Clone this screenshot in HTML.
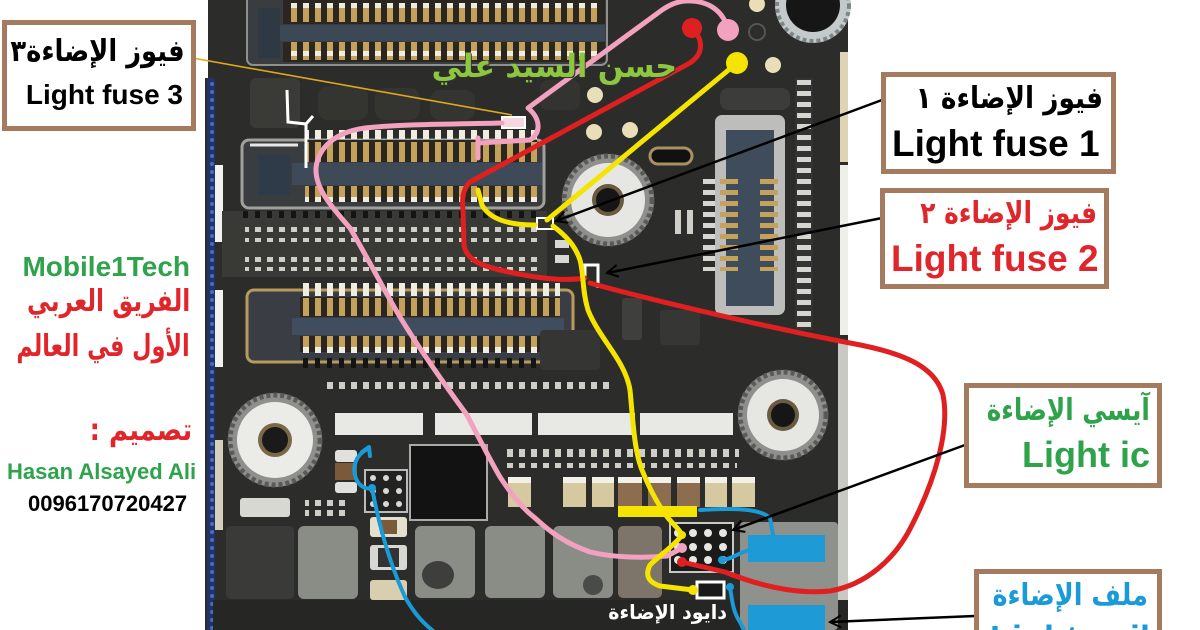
<!DOCTYPE html>
<html><head><meta charset="utf-8">
<style>
html,body{margin:0;padding:0;background:#fff;}
#wrap{position:relative;width:1200px;height:630px;overflow:hidden;background:#fff;}
svg{position:absolute;left:0;top:0;}
.t{position:absolute;white-space:nowrap;font-weight:bold;line-height:1;}
.lat{font-family:"Liberation Sans",Arial,sans-serif;}
.ar{font-family:"DejaVu Sans","Liberation Sans",sans-serif;direction:rtl;transform-origin:100% 50%;}
.box{position:absolute;border:5px solid #a47b5f;background:#fff;box-sizing:border-box;}
</style></head><body><div id="wrap">
<svg width="1200" height="630" viewBox="0 0 1200 630">
<defs>
<pattern id="gs" width="12" height="10" patternUnits="userSpaceOnUse"><rect x="3" width="6" height="10" fill="#c6a15a"/></pattern>
<pattern id="ws" width="12" height="10" patternUnits="userSpaceOnUse"><rect x="3" width="6" height="10" fill="#efece0"/></pattern>
<pattern id="ds" width="12" height="10" patternUnits="userSpaceOnUse"><rect x="3" width="6" height="10" fill="#cfcfc8"/></pattern>
<pattern id="ks" width="12" height="10" patternUnits="userSpaceOnUse"><rect x="3" width="5" height="10" fill="#141414"/></pattern>
<pattern id="hg" width="20" height="11" patternUnits="userSpaceOnUse"><rect y="3" width="20" height="5" fill="#c6a15a"/></pattern>
<pattern id="hw" width="20" height="11" patternUnits="userSpaceOnUse"><rect y="3" width="20" height="5" fill="#d6d6d0"/></pattern>
<pattern id="bl" width="8" height="8" patternUnits="userSpaceOnUse"><rect width="8" height="8" fill="#22336a"/><circle cx="4" cy="4" r="2" fill="#4a6cc0"/></pattern>
<marker id="ah" markerWidth="16" markerHeight="16" refX="12" refY="7" orient="auto" markerUnits="userSpaceOnUse"><path d="M1,1 L12,7 L1,13" fill="none" stroke="#000" stroke-width="2"/></marker>
</defs>

<!-- PCB base -->
<rect x="205" y="0" width="643" height="630" fill="#2c2c2a"/>
<rect x="205" y="0" width="3" height="78" fill="#fff"/>
<rect x="207" y="78" width="8" height="552" fill="url(#bl)"/>
<rect x="215" y="165" width="8" height="77" fill="#f2f2f0"/>
<rect x="215" y="290" width="8" height="77" fill="#f2f2f0"/>
<rect x="215" y="440" width="8" height="90" fill="#d4d0bc"/>
<rect x="840" y="52" width="8" height="110" fill="#ddd4b6"/>
<rect x="840" y="165" width="8" height="170" fill="#efefea"/>
<rect x="838" y="340" width="10" height="290" fill="#c9c9c4"/>

<!-- top connector -->
<rect x="247" y="-6" width="360" height="71" rx="6" fill="#3a3d40" stroke="#8f918f" stroke-width="2"/>
<rect x="283" y="0" width="322" height="24" fill="#2a2622"/>
<rect x="287" y="3" width="316" height="19" fill="url(#gs)"/>
<rect x="287" y="3" width="316" height="5" fill="url(#ws)"/>
<rect x="280" y="25" width="325" height="16" fill="#3c4856"/>
<rect x="283" y="42" width="322" height="20" fill="#2a2622"/>
<rect x="287" y="42" width="316" height="18" fill="url(#gs)"/>
<rect x="287" y="51" width="316" height="5" fill="url(#ws)"/>
<rect x="258" y="8" width="22" height="50" fill="#2f3944"/>

<!-- area between -->
<rect x="250" y="78" width="50" height="50" rx="6" fill="#3a3a37"/>
<rect x="318" y="86" width="50" height="34" rx="10" fill="#343431"/>
<rect x="375" y="88" width="45" height="32" rx="10" fill="#343431"/>
<rect x="430" y="90" width="45" height="30" rx="10" fill="#343431"/>
<rect x="540" y="80" width="40" height="30" rx="8" fill="#333330"/>

<!-- second connector -->
<rect x="242" y="140" width="302" height="68" rx="7" fill="#3a3d40" stroke="#a0a09c" stroke-width="3"/>
<rect x="305" y="130" width="232" height="9" fill="url(#ws)"/>
<rect x="305" y="140" width="232" height="22" fill="#2a2622"/>
<rect x="305" y="142" width="232" height="20" fill="url(#gs)"/>
<rect x="292" y="163" width="250" height="22" fill="#3e4a58"/>
<rect x="305" y="186" width="232" height="16" fill="#2a2622"/>
<rect x="305" y="186" width="232" height="15" fill="url(#gs)"/>
<rect x="305" y="197" width="232" height="5" fill="url(#ws)"/>
<rect x="258" y="155" width="32" height="40" fill="#2f3b48"/>

<!-- pad rows -->
<rect x="222" y="211" width="325" height="66" fill="#393a36"/>
<rect x="240" y="211" width="300" height="7" fill="url(#ks)"/>
<rect x="245" y="227" width="295" height="5" fill="url(#ds)"/>
<rect x="245" y="238" width="295" height="4" fill="url(#ds)"/>
<rect x="245" y="257" width="295" height="5" fill="url(#ds)"/>
<rect x="245" y="267" width="295" height="4" fill="url(#ds)"/>

<!-- fourth connector -->
<rect x="247" y="290" width="326" height="72" rx="7" fill="#3a3e44" stroke="#b89a5a" stroke-width="3"/>
<rect x="300" y="283" width="260" height="13" fill="url(#ws)"/>
<rect x="300" y="297" width="260" height="20" fill="#2a2622"/>
<rect x="300" y="298" width="260" height="18" fill="url(#gs)"/>
<rect x="292" y="318" width="272" height="17" fill="#3f4d5e"/>
<rect x="300" y="336" width="260" height="16" fill="#2a2622"/>
<rect x="300" y="336" width="260" height="14" fill="url(#gs)"/>
<rect x="300" y="347" width="260" height="6" fill="url(#ws)"/>
<rect x="300" y="358" width="260" height="10" fill="url(#ks)"/>
<rect x="325" y="382" width="290" height="7" fill="url(#ds)"/>

<!-- middle small components -->
<rect x="622" y="298" width="20" height="42" rx="3" fill="#3f3f3d"/>
<rect x="660" y="310" width="40" height="35" rx="4" fill="#363634"/>
<rect x="555" y="240" width="14" height="8" fill="#d8d8d2"/>
<rect x="555" y="255" width="14" height="8" fill="#d8d8d2"/>
<rect x="670" y="210" width="24" height="24" fill="url(#ds)"/>
<rect x="540" y="330" width="60" height="40" rx="4" fill="#353533"/>

<!-- beige pads top -->
<circle cx="595" cy="95" r="8" fill="#e8dfb8"/>
<circle cx="594" cy="132" r="8" fill="#e8dfb8"/>
<circle cx="630" cy="130" r="8" fill="#e8dfb8"/>
<circle cx="773" cy="65" r="8" fill="#e8dfb8"/>
<circle cx="757" cy="4" r="8" fill="#e8dfb8"/>
<circle cx="757" cy="32" r="8" fill="none" stroke="#555" stroke-width="2"/>
<rect x="650" y="148" width="42" height="16" rx="8" fill="#111" stroke="#a89060" stroke-width="3"/>

<!-- right vertical connector -->
<rect x="720" y="88" width="70" height="22" rx="8" fill="#3c3c3a"/>
<rect x="715" y="115" width="70" height="200" rx="7" fill="#bdbdbb"/>
<rect x="726" y="130" width="48" height="176" fill="#3f4c5c"/>
<rect x="720" y="175" width="18" height="96" fill="url(#hg)"/>
<rect x="760" y="175" width="18" height="96" fill="url(#hg)"/>
<rect x="703" y="175" width="12" height="96" fill="url(#hw)"/>
<rect x="795" y="78" width="18" height="252" fill="#333331"/>
<rect x="797" y="78" width="14" height="252" fill="url(#hw)"/>

<!-- screws -->
<g>
<circle cx="813" cy="5" r="38" fill="#c4cacb"/>
<circle cx="813" cy="5" r="36" fill="none" stroke="#7d8585" stroke-width="4" stroke-dasharray="4 3"/>
<circle cx="813" cy="5" r="27" fill="#161616"/>
</g>
<g>
<circle cx="608" cy="200" r="46" fill="#8f8f8b"/>
<circle cx="608" cy="200" r="44" fill="none" stroke="#5a5a58" stroke-width="5" stroke-dasharray="4 3"/>
<circle cx="608" cy="200" r="37" fill="#e6e6e2"/>
<circle cx="608" cy="200" r="16" fill="#6a5a40"/>
<circle cx="608" cy="200" r="12" fill="#161616"/>
</g>
<g>
<circle cx="275" cy="440" r="47" fill="#8f8f8b"/>
<circle cx="275" cy="440" r="45" fill="none" stroke="#5a5a58" stroke-width="5" stroke-dasharray="4 3"/>
<circle cx="275" cy="440" r="38" fill="#ebebe7"/>
<circle cx="275" cy="440" r="17" fill="#7a6848"/>
<circle cx="275" cy="440" r="13" fill="#1a1a1a"/>
</g>
<g>
<circle cx="783" cy="415" r="45" fill="#8f8f8b"/>
<circle cx="783" cy="415" r="43" fill="none" stroke="#5a5a58" stroke-width="5" stroke-dasharray="4 3"/>
<circle cx="783" cy="415" r="36" fill="#e6e6e2"/>
<circle cx="783" cy="415" r="16" fill="#6a5a40"/>
<circle cx="783" cy="415" r="12" fill="#161616"/>
</g>

<!-- bottom white strip pads -->
<rect x="335" y="413" width="88" height="22" fill="#e8e8e4"/>
<rect x="435" y="413" width="97" height="22" fill="#e8e8e4"/>
<rect x="538" y="413" width="97" height="22" fill="#e8e8e4"/>
<rect x="640" y="413" width="93" height="22" fill="#e8e8e4"/>
<rect x="507" y="449" width="232" height="8" fill="url(#ds)"/>
<rect x="505" y="463" width="232" height="5" fill="url(#ds)"/>

<!-- small components left -->
<rect x="335" y="450" width="22" height="12" rx="3" fill="#e0e0dc"/>
<rect x="335" y="463" width="22" height="17" fill="#7a5a3a"/>
<rect x="335" y="482" width="22" height="11" rx="3" fill="#e0e0dc"/>
<rect x="240" y="498" width="50" height="19" rx="3" fill="#d8d8d2"/>
<rect x="305" y="500" width="40" height="6" fill="url(#ds)"/>
<rect x="305" y="510" width="40" height="6" fill="url(#ds)"/>
<rect x="365" y="470" width="42" height="42" fill="#222" stroke="#bbb" stroke-width="2"/>
<g fill="#d8d8d4">
<circle cx="373" cy="478" r="3"/><circle cx="386" cy="478" r="3"/><circle cx="399" cy="478" r="3"/>
<circle cx="373" cy="491" r="3"/><circle cx="386" cy="491" r="3"/><circle cx="399" cy="491" r="3"/>
<circle cx="373" cy="504" r="3"/><circle cx="386" cy="504" r="3"/><circle cx="399" cy="504" r="3"/>
</g>
<rect x="410" y="445" width="77" height="75" fill="#121212" stroke="#aaa" stroke-width="2"/>
<rect x="370" y="517" width="37" height="20" rx="3" fill="#e4e0d0"/>
<rect x="380" y="520" width="17" height="14" fill="#7a5a3a"/>
<rect x="370" y="545" width="37" height="25" rx="3" fill="#d8d8d2"/>
<rect x="378" y="548" width="21" height="19" fill="#333"/>
<rect x="370" y="580" width="37" height="20" rx="3" fill="#d8ceb0"/>

<!-- capacitors -->
<g>
<rect x="508" y="477" width="23" height="30" fill="#d6c9a0"/>
<rect x="563" y="477" width="23" height="30" fill="#d6c9a0"/>
<rect x="592" y="477" width="22" height="30" fill="#d6c9a0"/>
<rect x="618" y="477" width="24" height="30" fill="#8c6d4f"/>
<rect x="648" y="477" width="23" height="30" fill="#8c6d4f"/>
<rect x="677" y="477" width="23" height="30" fill="#8c6d4f"/>
<rect x="705" y="477" width="22" height="30" fill="#d6c9a0"/>
<rect x="732" y="477" width="23" height="30" fill="#d6c9a0"/>
</g>
<g fill="#f2f0e8">
<rect x="508" y="477" width="23" height="6"/><rect x="563" y="477" width="23" height="6"/><rect x="592" y="477" width="22" height="6"/><rect x="618" y="477" width="24" height="6"/><rect x="648" y="477" width="23" height="6"/><rect x="677" y="477" width="23" height="6"/><rect x="705" y="477" width="22" height="6"/><rect x="732" y="477" width="23" height="6"/>
</g>

<!-- inductors -->
<rect x="213" y="600" width="635" height="30" fill="#262624"/>
<rect x="226" y="526" width="68" height="73" rx="5" fill="#3a3b38"/>
<rect x="298" y="526" width="60" height="73" rx="6" fill="#8a8c86"/>
<rect x="415" y="526" width="60" height="72" rx="6" fill="#8a8c86"/>
<ellipse cx="438" cy="575" rx="16" ry="14" fill="#3e3e3c"/>
<rect x="485" y="526" width="60" height="72" rx="6" fill="#8a8c86"/>
<rect x="553" y="526" width="60" height="72" rx="6" fill="#8a8c86"/>
<ellipse cx="593" cy="585" rx="10" ry="10" fill="#4a4a48"/>
<rect x="618" y="526" width="44" height="72" rx="5" fill="#7d756a"/>
<rect x="740" y="522" width="98" height="108" rx="4" fill="#8f918c"/>
<rect x="748" y="535" width="77" height="27" fill="#1e9ad6"/>
<rect x="748" y="605" width="77" height="25" fill="#1e9ad6"/>

<!-- light ic -->
<rect x="670" y="523" width="63" height="49" fill="#1a1a1a" stroke="#c8c8c4" stroke-width="2"/>
<g fill="#e6e6e2">
<circle cx="678" cy="533" r="4"/><circle cx="693" cy="533" r="4"/><circle cx="708" cy="533" r="4"/><circle cx="723" cy="533" r="4"/>
<circle cx="678" cy="547" r="4"/><circle cx="693" cy="547" r="4"/><circle cx="708" cy="547" r="4"/><circle cx="723" cy="547" r="4"/>
<circle cx="678" cy="560" r="4"/><circle cx="693" cy="560" r="4"/><circle cx="708" cy="560" r="4"/><circle cx="723" cy="560" r="4"/>
</g>
<rect x="697" y="582" width="27" height="16" fill="#1a1a1a" stroke="#fff" stroke-width="3"/>

<!-- white marks -->
<path d="M287,90 L288,122 L306,124 L306,168 M306,124 L313,116" fill="none" stroke="#fff" stroke-width="3"/>
<path d="M250,145 L298,145" stroke="#e8e8e8" stroke-width="3"/>
<rect x="502" y="117" width="23" height="11" fill="#f6d6e0" stroke="#fff" stroke-width="2"/>
<rect x="537" y="218" width="16" height="11" fill="#333" stroke="#fff" stroke-width="2"/>
<path d="M585,280 L585,265 L598,265 L598,288" fill="none" stroke="#fff" stroke-width="3"/>

<!-- thin yellow leader -->
<path d="M187,57 L512,115" stroke="#e0a820" stroke-width="1.6" fill="none"/>

<!-- red path -->
<g fill="none" stroke="#e02020" stroke-width="5" stroke-linecap="round" stroke-linejoin="round">
<path d="M692,28 C704,40 704,55 688,64 L470,182 C462,190 462,200 463,210 L464,245 C466,258 478,265 500,270 C530,277 560,282 585,278"/>
<path d="M590,283 C650,300 780,330 850,343 C900,352 935,365 943,395 C950,430 935,480 912,525 C895,560 865,585 830,591 C790,595 750,582 725,572 L682,562"/>
</g>
<circle cx="692" cy="28" r="10" fill="#e02020"/>
<circle cx="682" cy="562" r="5" fill="#e02020"/>

<!-- pink path -->
<g fill="none" stroke="#f2a2bf" stroke-width="5" stroke-linecap="round" stroke-linejoin="round">
<path d="M728,30 C724,12 710,2 692,1 C682,0 672,3 662,10 L528,108 C540,118 542,132 530,140 L478,143 M478,138 L478,158"/>
<path d="M502,123 C460,124 400,124 365,128 C335,132 318,148 316,168 C315,188 330,205 350,228 C370,262 385,292 400,317 C420,350 445,385 467,415 C480,440 490,460 500,477 C512,495 522,508 535,518 C550,532 565,543 590,552 C615,558 645,558 667,556 L682,548"/>
</g>
<circle cx="728" cy="30" r="11" fill="#f2a2bf"/>
<circle cx="682" cy="548" r="5" fill="#f2a2bf"/>

<!-- yellow path -->
<rect x="618" y="506" width="79" height="11" fill="#f5e400"/>
<g fill="none" stroke="#f5e400" stroke-width="5" stroke-linecap="round" stroke-linejoin="round">
<path d="M737,63 L547,220"/>
<path d="M535,225 C510,225 490,220 482,205 L478,190"/>
<path d="M553,226 C565,235 575,245 580,260 C584,275 582,290 588,310 C600,340 625,360 630,390 C633,420 634,450 642,470 C650,490 658,505 668,518 C674,525 680,530 682,535"/>
<path d="M682,535 C675,545 660,555 650,565 C645,575 648,582 660,586 L693,590"/>
</g>
<circle cx="737" cy="63" r="11" fill="#f5e400"/>
<circle cx="682" cy="535" r="4" fill="#f5e400"/>
<circle cx="693" cy="590" r="5" fill="#f5e400"/>

<!-- blue paths -->
<g fill="none" stroke="#1a9ad6" stroke-width="4" stroke-linecap="round" stroke-linejoin="round">
<path d="M368,449 C360,452 352,462 355,475 C357,485 365,490 372,488"/>
<path d="M362,452 L369,447 L370,456"/>
<path d="M372,488 C378,520 388,560 405,597 C415,615 425,625 437,634"/>
<path d="M700,510 C730,508 760,508 770,518 L773,535"/>
<path d="M722,560 C730,560 740,552 750,550"/>
<path d="M730,587 C732,600 733,612 740,622 L745,632"/>
</g>
<circle cx="372" cy="488" r="4" fill="#1a9ad6"/>
<circle cx="722" cy="560" r="4" fill="#1a9ad6"/>
<circle cx="730" cy="587" r="4" fill="#1a9ad6"/>

<!-- black arrows -->
<g fill="none" stroke="#000" stroke-width="2.5">
<path d="M882,100 L556,221" marker-end="url(#ah)"/>
<path d="M882,218 L607,273" marker-end="url(#ah)"/>
<path d="M965,445 L733,530" marker-end="url(#ah)"/>
<path d="M975,616 L830,622" marker-end="url(#ah)"/>
</g>
</svg>

<!-- boxes -->
<div class="box" style="left:2px;top:20px;width:194px;height:111px;"></div>
<div class="box" style="left:881px;top:72px;width:235px;height:102px;"></div>
<div class="box" style="left:880px;top:188px;width:229px;height:101px;"></div>
<div class="box" style="left:964px;top:383px;width:198px;height:105px;"></div>
<div class="box" style="left:974px;top:569px;width:188px;height:90px;"></div>

<!-- box texts -->
<div class="t ar" style="right:1015px;top:37px;font-size:30px;color:#000;transform:scaleX(0.86);">فيوز الإضاءة٣</div>
<div class="t lat" style="right:1017px;top:81px;font-size:28px;color:#000;">Light fuse 3</div>

<div class="t ar" style="right:97px;top:84px;font-size:30px;color:#000;transform:scaleX(0.88);">فيوز الإضاءة ١</div>
<div class="t lat" style="left:892px;top:125px;font-size:37px;color:#000;">Light fuse 1</div>

<div class="t ar" style="right:103px;top:199px;font-size:30px;color:#e0252b;transform:scaleX(0.83);">فيوز الإضاءة ٢</div>
<div class="t lat" style="left:891px;top:240px;font-size:37px;color:#e0252b;">Light fuse 2</div>

<div class="t ar" style="right:50px;top:396px;font-size:30px;color:#2ea34b;transform:scaleX(0.82);">آيسي الإضاءة</div>
<div class="t lat" style="left:1022px;top:437px;font-size:36px;color:#2ea34b;">Light ic</div>

<div class="t ar" style="right:52px;top:581px;font-size:30px;color:#1a9ad6;transform:scaleX(0.85);">ملف الإضاءة</div>
<div class="t lat" style="left:990px;top:621px;font-size:36px;color:#1a9ad6;">Light coil</div>

<!-- left texts -->
<div class="t lat" style="right:1010px;top:253px;font-size:28px;color:#2ea34b;">Mobile1Tech</div>
<div class="t ar" style="right:1010px;top:287px;font-size:30px;color:#e0252b;transform:scaleX(0.78);">الفريق العربي</div>
<div class="t ar" style="right:1010px;top:332px;font-size:30px;color:#e0252b;transform:scaleX(0.745);">الأول في العالم</div>
<div class="t ar" style="right:1008px;top:416px;font-size:30px;color:#e0252b;transform:scaleX(0.86);">تصميم :</div>
<div class="t lat" style="left:7px;top:461px;font-size:22px;color:#2ea34b;">Hasan Alsayed Ali</div>
<div class="t lat" style="left:28px;top:493px;font-size:22px;color:#000;">0096170720427</div>

<!-- PCB overlay texts -->
<div class="t ar" style="right:523px;top:50px;font-size:32px;color:#8dc63f;text-shadow:1px 1px 0 #333;transform:scaleX(0.94);">حسن السيد علي</div>
<div class="t ar" style="right:473px;top:602px;font-size:20px;color:#fff;transform:scaleX(0.95);">دايود الإضاءة</div>
</div></body></html>
